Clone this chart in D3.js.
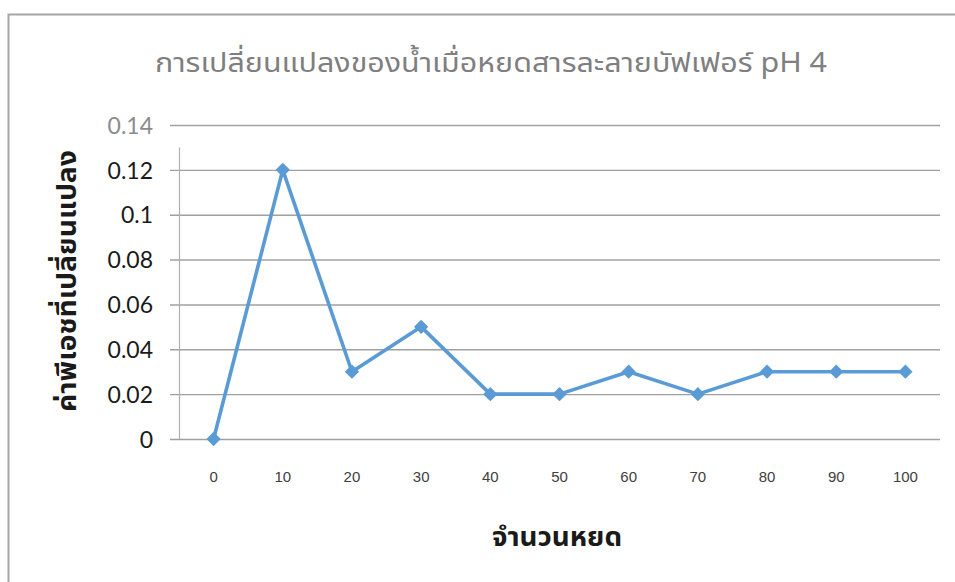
<!DOCTYPE html>
<html>
<head>
<meta charset="utf-8">
<script src="https://cdn.jsdelivr.net/npm/d3@7/dist/d3.min.js"></script>
<style>
  html, body { margin: 0; padding: 0; background: #fff; }
  svg { display: block; }
</style>
</head>
<body>
<svg id="chart" width="955" height="582"></svg>
<script>
// Drops of buffer added and the resulting change in pH
const categories = ["0", "10", "20", "30", "40", "50", "60", "70", "80", "90", "100"];
const phChange = [0, 0.12, 0.03, 0.05, 0.02, 0.02, 0.03, 0.02, 0.03, 0.03, 0.03];
const yTicks = [0, 0.02, 0.04, 0.06, 0.08, 0.1, 0.12, 0.14];
const yTickLabels = ["0", "0.02", "0.04", "0.06", "0.08", "0.1", "0.12", "0.14"];

const titleText = "การเปลี่ยนแปลงของน้ำเมื่อหยดสารละลายบัฟเฟอร์ pH 4";
const xTitle = "จำนวนหยด";
const yTitle = "ค่าพีเอชที่เปลี่ยนแปลง";

const svg = d3.select("#chart");
const W = 955, H = 582;
const plot = { left: 179, right: 940, top: 125, bottom: 439 };

const x = d3.scaleBand().domain(categories).range([plot.left, plot.right]);
const y = d3.scaleLinear().domain([0, 0.14]).range([plot.bottom, plot.top]);

// chart frame (extends past the page on the right and bottom)
svg.append("path")
  .attr("d", `M8.5,${H + 2} V14.5 H${W + 2}`)
  .attr("fill", "none")
  .attr("stroke", "#a6a6a6")
  .attr("stroke-width", 2);

// title
svg.append("text")
  .attr("x", 491).attr("y", 72)
  .attr("text-anchor", "middle")
  .style("font-family", "'Noto Sans Thai', 'Noto Sans', sans-serif")
  .style("font-size", "27px")
  .attr("fill", "#7f7f7f")
  .attr("textLength", 672)
  .attr("lengthAdjust", "spacingAndGlyphs")
  .text(titleText);

// horizontal gridlines with left tick stubs
const yAxis = d3.axisLeft(y)
  .tickValues(yTicks)
  .tickSize(plot.right - plot.left + 9)
  .tickFormat((d, i) => yTickLabels[i]);

const gy = svg.append("g")
  .attr("transform", `translate(${plot.right},0)`)
  .call(yAxis);
gy.select(".domain").remove();
gy.selectAll(".tick line")
  .attr("stroke", "#a0a0a0")
  .attr("stroke-width", 1.4);
gy.selectAll(".tick text")
  .attr("x", -(plot.right - 153))
  .attr("dy", "0.36em")
  .attr("text-anchor", "end")
  .style("font-family", "Lato, 'Open Sans', sans-serif")
  .style("font-size", "23px")
  .attr("fill", (d) => d === 0.14 ? "#8c8c8c" : "#1a1a1a");

// vertical axis line
svg.append("line")
  .attr("x1", plot.left + 0.5).attr("x2", plot.left + 0.5)
  .attr("y1", y(0.13)).attr("y2", plot.bottom)
  .attr("stroke", "#b0b0b0")
  .attr("stroke-width", 1.2);

// category labels
const xAxis = d3.axisBottom(x).tickSize(0).tickPadding(0);
const gx = svg.append("g")
  .attr("transform", `translate(0,${plot.bottom})`)
  .call(xAxis);
gx.select(".domain").remove();
gx.selectAll(".tick text")
  .attr("y", 43)
  .attr("dy", 0)
  .style("font-family", "'Liberation Sans Narrow', 'Liberation Sans', sans-serif")
  .style("font-size", "15px")
  .attr("fill", "#404040");

// axis titles
svg.append("text")
  .attr("x", 557).attr("y", 546)
  .attr("text-anchor", "middle")
  .style("font-family", "'Noto Sans Thai', 'Noto Sans', sans-serif")
  .style("font-weight", "bold")
  .style("font-size", "27px")
  .attr("fill", "#1a1a1a")
  .attr("textLength", 130)
  .attr("lengthAdjust", "spacingAndGlyphs")
  .text(xTitle);

svg.append("text")
  .attr("transform", "translate(76,281) rotate(-90)")
  .attr("text-anchor", "middle")
  .style("font-family", "'Noto Sans Thai', 'Noto Sans', sans-serif")
  .style("font-weight", "bold")
  .style("font-size", "27px")
  .attr("fill", "#1a1a1a")
  .attr("textLength", 262)
  .attr("lengthAdjust", "spacingAndGlyphs")
  .text(yTitle);

// series line
const pts = categories.map((c, i) => [x(c) + x.bandwidth() / 2, y(phChange[i])]);
svg.append("path")
  .attr("d", d3.line()(pts))
  .attr("fill", "none")
  .attr("stroke", "#5b9bd5")
  .attr("stroke-width", 3.6)
  .attr("stroke-linejoin", "round");

// diamond markers
svg.append("g").selectAll("path")
  .data(pts)
  .join("path")
  .attr("transform", (d) => `translate(${d[0]},${d[1]})`)
  .attr("d", d3.symbol().type(d3.symbolDiamond2).size(130))
  .attr("fill", "#5b9bd5");
</script>
</body>
</html>
